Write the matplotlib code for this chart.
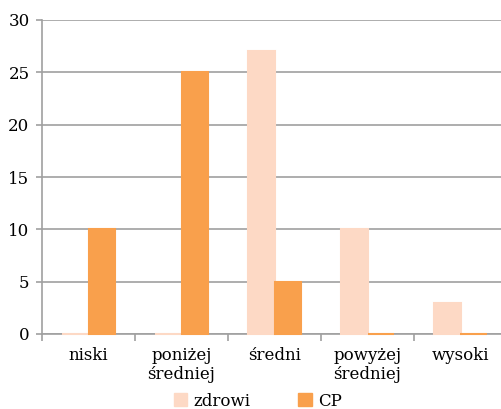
import matplotlib.pyplot as plt
import numpy as np
from matplotlib.patches import Patch

categories = ["niski", "poniżej\nśredniej", "średni", "powyżej\nśredniej", "wysoki"]
zdrowi = [0, 0, 27, 10, 3]
cp = [10, 25, 5, 0, 0]
yticks = [0, 5, 10, 15, 20, 25, 30]

c_zdrowi = "#FDD9C5"
c_cp = "#F9A04C"
grey = "#A0A0A0"

plt.rcParams['font.family'] = ['DejaVu Serif']

fig = plt.figure(figsize=(5.01, 4.09), dpi=100)
ax = fig.add_axes([42 / 501, 1 - 334 / 409, 465 / 501, 314 / 409])

x = np.arange(len(categories))
w = 0.28
ax.bar(x - w / 2, zdrowi, w, color=c_zdrowi, edgecolor=c_zdrowi, linewidth=1.5,
       zorder=3, clip_on=False)
ax.bar(x + w / 2, cp, w, color=c_cp, edgecolor=c_cp, linewidth=1.5,
       zorder=3, clip_on=False)

ax.set_xlim(-0.5, len(categories) - 0.5)
ax.set_ylim(0, 30)
ax.set_yticks(yticks)
ax.yaxis.grid(True, color=grey, linewidth=1.2, zorder=0)
ax.set_axisbelow(True)

for s in ["top", "right"]:
    ax.spines[s].set_visible(False)
for s in ["left", "bottom"]:
    ax.spines[s].set_color(grey)
    ax.spines[s].set_linewidth(1.2)
    ax.spines[s].set_zorder(1)

ax.set_xticks(np.arange(len(categories) + 1) - 0.5)
ax.set_xticklabels([])
ax.set_xticks(x, minor=True)
ax.set_xticklabels(categories, minor=True, fontsize=12, linespacing=1.2)
ax.tick_params(axis="x", which="major", length=5, color=grey, width=1.2)
ax.tick_params(axis="x", which="minor", length=0, pad=9)
ax.tick_params(axis="y", length=4, color=grey, width=1.2, labelsize=12, pad=5)

handles = [Patch(color=c_zdrowi, label="zdrowi"), Patch(color=c_cp, label="CP")]
fig.legend(handles=handles, loc="center", bbox_to_anchor=(0.515, 1 - 401 / 409), ncol=2,
           frameon=False, fontsize=12, handlelength=0.8, handleheight=0.8,
           handletextpad=0.4, columnspacing=2.85)

fig.savefig("out.png", dpi=100)
